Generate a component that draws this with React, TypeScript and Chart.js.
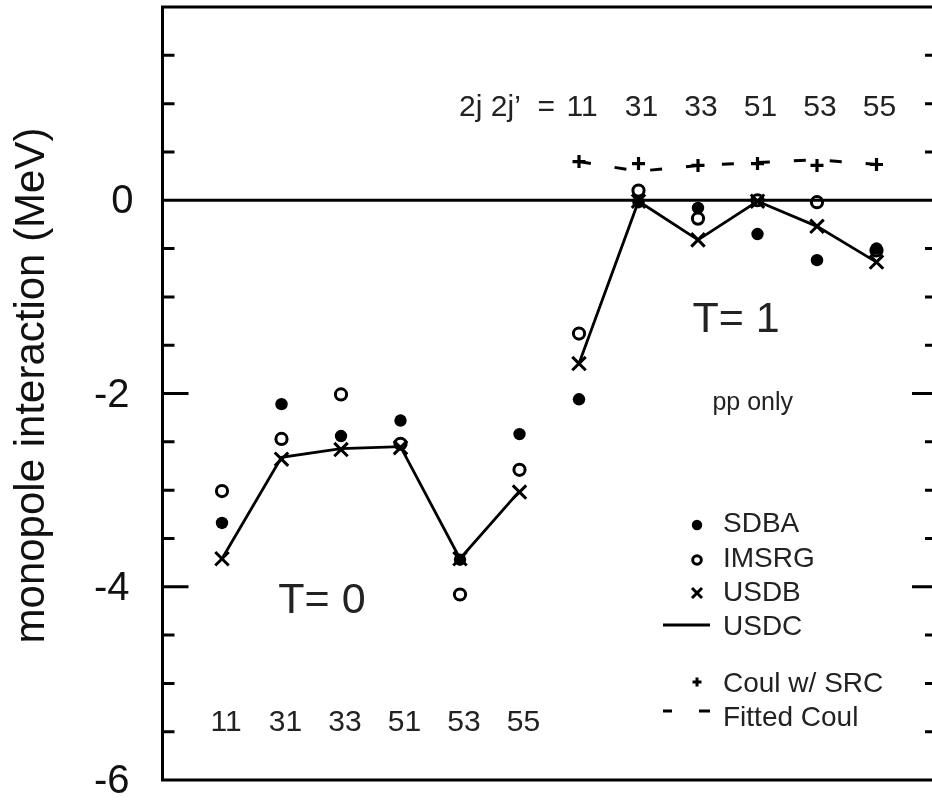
import React, { useEffect, useRef } from 'react';
import { Chart, registerables } from 'chart.js';

Chart.register(...registerables);

// ---- data ----
const orbitPairs = ['11', '31', '33', '51', '53', '55'];
const xT0 = [0, 1, 2, 3, 4, 5];
const xT1 = [6, 7, 8, 9, 10, 11];

const sdbaT0 = [-3.34, -2.11, -2.44, -2.28, -3.72, -2.42];
const sdbaT1 = [-2.06, -0.02, -0.08, -0.35, -0.62, -0.5];
const imsrgT0 = [-3.01, -2.47, -2.01, -2.52, -4.08, -2.79];
const imsrgT1 = [-1.38, 0.1, -0.19, 0.0, -0.02, -0.52];
const usdbT0 = [-3.71, -2.68, -2.58, -2.56, -3.71, -3.02];
const usdbT1 = [-1.69, -0.01, -0.41, -0.01, -0.27, -0.64];
const usdcT0 = [-3.71, -2.66, -2.57, -2.55, -3.71, -3.01];
const usdcT1 = [-1.69, -0.01, -0.41, -0.01, -0.27, -0.64];
const coulSrcT1 = [0.4, 0.38, 0.36, 0.38, 0.36, 0.37];
const fittedCoulT1 = [0.4, 0.3, 0.36, 0.39, 0.42, 0.37];

const yLabelValues = [0, -2, -4, -6];
const yMinorStep = 0.5;
const yMin = -6;
const yMax = 2;
const xMin = -1;
const xMax = 12;

const yTitle = 'monopole interaction (MeV)';
const legendItems = ['SDBA', 'IMSRG', 'USDB', 'USDC', 'Coul w/ SRC', 'Fitted Coul'];

const pts = (xs: number[], ys: number[]) => xs.map((x, i) => ({ x, y: ys[i] }));

const FONT = '"Liberation Sans", Arial, Helvetica, sans-serif';

const decorPlugin = {
  id: 'decor',
  beforeDatasetsDraw(chart: any) {
    const { ctx, chartArea, scales } = chart;
    const y0 = scales.y.getPixelForValue(0);
    ctx.save();
    ctx.strokeStyle = '#000';
    ctx.lineWidth = 3;
    ctx.beginPath();
    ctx.moveTo(chartArea.left, y0);
    ctx.lineTo(chartArea.right, y0);
    ctx.stroke();
    ctx.restore();
  },
  afterDraw(chart: any) {
    const { ctx, chartArea, scales } = chart;
    const { left, right, top, bottom } = chartArea;
    const xs = scales.x;
    const ys = scales.y;
    ctx.save();

    // frame
    ctx.strokeStyle = '#000';
    ctx.lineWidth = 3;
    ctx.lineCap = 'square';
    ctx.beginPath();
    ctx.moveTo(left, top);
    ctx.lineTo(right, top);
    ctx.lineTo(right, bottom);
    ctx.lineTo(left, bottom);
    ctx.closePath();
    ctx.stroke();
    ctx.lineCap = 'butt';

    // inward ticks
    for (let v = yMin + yMinorStep; v < yMax - 1e-9; v += yMinorStep) {
      if (Math.abs(v) < 1e-9) continue;
      const major = Math.abs(v % 2) < 1e-9;
      const py = ys.getPixelForValue(v);
      ctx.beginPath();
      ctx.moveTo(left, py);
      ctx.lineTo(left + (major ? 26 : 12), py);
      ctx.moveTo(right, py);
      ctx.lineTo(right - (major ? 24 : 11), py);
      ctx.stroke();
    }

    // y tick labels
    ctx.fillStyle = '#111';
    ctx.font = `40px ${FONT}`;
    ctx.textAlign = 'right';
    ctx.textBaseline = 'middle';
    yLabelValues.forEach((v) => {
      const off = v === 0 ? 29 : 33;
      ctx.fillText(String(v), left - off, ys.getPixelForValue(v) + 2);
    });

    // y title
    ctx.save();
    ctx.translate(32, (top + bottom) / 2 - 8);
    ctx.rotate(-Math.PI / 2);
    ctx.textAlign = 'center';
    ctx.textBaseline = 'middle';
    ctx.font = `42px ${FONT}`;
    ctx.fillText(yTitle, 0, 0);
    ctx.restore();

    // orbit labels
    ctx.fillStyle = '#222';
    ctx.font = `30px ${FONT}`;
    ctx.textAlign = 'center';
    ctx.textBaseline = 'middle';
    orbitPairs.forEach((lab, i) => {
      ctx.fillText(lab, xs.getPixelForValue(xT1[i]) + 3, ys.getPixelForValue(0.96));
      ctx.fillText(lab, xs.getPixelForValue(xT0[i]) + 4, ys.getPixelForValue(-5.41));
    });
    ctx.textAlign = 'right';
    ctx.fillText('2j 2j\u2019  =', xs.getPixelForValue(6) - 24, ys.getPixelForValue(0.96));

    // T labels
    ctx.textAlign = 'center';
    ctx.font = `43px ${FONT}`;
    ctx.fillText('T= 0', xs.getPixelForValue(1.68), ys.getPixelForValue(-4.15));
    ctx.fillText('T= 1', xs.getPixelForValue(8.64), ys.getPixelForValue(-1.24));
    ctx.font = `25px ${FONT}`;
    ctx.fillText('pp only', xs.getPixelForValue(8.92), ys.getPixelForValue(-2.1));

    // legend
    const sx = 697;
    const tx = 723;
    const rows = [523, 558, 592, 626, 683, 717];
    ctx.font = `28px ${FONT}`;
    ctx.textAlign = 'left';
    ctx.fillStyle = '#222';
    legendItems.forEach((t, i) => ctx.fillText(t, tx, rows[i] + 1));
    ctx.fillStyle = '#000';
    ctx.strokeStyle = '#000';
    // SDBA
    ctx.beginPath();
    ctx.arc(sx, rows[0] + 2, 5.2, 0, Math.PI * 2);
    ctx.fill();
    // IMSRG
    ctx.lineWidth = 3;
    ctx.beginPath();
    ctx.arc(sx, rows[1] + 2, 4.3, 0, Math.PI * 2);
    ctx.stroke();
    // USDB
    ctx.beginPath();
    ctx.moveTo(sx - 5, rows[2] - 4);
    ctx.lineTo(sx + 5, rows[2] + 6);
    ctx.moveTo(sx + 5, rows[2] - 4);
    ctx.lineTo(sx - 5, rows[2] + 6);
    ctx.stroke();
    // USDC
    ctx.lineWidth = 2.8;
    ctx.beginPath();
    ctx.moveTo(663, rows[3] - 1);
    ctx.lineTo(710, rows[3] - 1);
    ctx.stroke();
    // Coul w/ SRC
    ctx.lineWidth = 3;
    ctx.beginPath();
    ctx.moveTo(sx - 4.5, rows[4] - 1);
    ctx.lineTo(sx + 4.5, rows[4] - 1);
    ctx.moveTo(sx, rows[4] - 5.5);
    ctx.lineTo(sx, rows[4] + 3.5);
    ctx.stroke();
    // Fitted Coul
    ctx.lineWidth = 3;
    ctx.beginPath();
    ctx.moveTo(663, rows[5] - 6);
    ctx.lineTo(672, rows[5] - 6);
    ctx.moveTo(699, rows[5] - 6);
    ctx.lineTo(710, rows[5] - 6);
    ctx.stroke();

    ctx.restore();
  },
};

export default function App() {
  const ref = useRef<HTMLCanvasElement | null>(null);

  useEffect(() => {
    if (!ref.current) return;
    const chart = new Chart(ref.current, {
      type: 'line',
      data: {
        datasets: [
          {
            label: 'SDBA',
            data: pts([...xT0, ...xT1], [...sdbaT0, ...sdbaT1]),
            showLine: false,
            pointStyle: 'circle',
            pointRadius: 6.2,
            pointBackgroundColor: '#000',
            pointBorderColor: '#000',
            pointBorderWidth: 0,
          },
          {
            label: 'IMSRG',
            data: pts([...xT0, ...xT1], [...imsrgT0, ...imsrgT1]),
            showLine: false,
            pointStyle: 'circle',
            pointRadius: 5.6,
            pointBackgroundColor: 'rgba(0,0,0,0)',
            pointBorderColor: '#000',
            pointBorderWidth: 3,
          },
          {
            label: 'USDB',
            data: pts([...xT0, ...xT1], [...usdbT0, ...usdbT1]),
            showLine: false,
            pointStyle: 'crossRot',
            pointRadius: 9.5,
            pointBorderColor: '#000',
            pointBorderWidth: 3,
          },
          {
            label: 'USDC',
            data: pts(xT0, usdcT0),
            borderColor: '#000',
            borderWidth: 2.8,
            pointRadius: 0,
            tension: 0,
          },
          {
            label: 'USDC (T=1)',
            data: pts(xT1, usdcT1),
            borderColor: '#000',
            borderWidth: 2.8,
            pointRadius: 0,
            tension: 0,
          },
          {
            label: 'Coul w/ SRC',
            data: pts(xT1, coulSrcT1),
            showLine: false,
            pointStyle: 'cross',
            pointRadius: 6.5,
            pointBorderColor: '#000',
            pointBorderWidth: 3.2,
          },
          {
            label: 'Fitted Coul',
            data: pts(xT1, fittedCoulT1),
            borderColor: '#000',
            borderWidth: 3,
            borderDash: [12, 24],
            pointRadius: 0,
            tension: 0,
          },
        ],
      },
      options: {
        responsive: false,
        devicePixelRatio: 1,
        animation: false,
        layout: { padding: { left: 162.5, top: 7, right: 4, bottom: 21 }, autoPadding: false },
        plugins: { legend: { display: false }, tooltip: { enabled: false } },
        scales: {
          x: { type: 'linear', min: xMin, max: xMax, display: false },
          y: { type: 'linear', min: yMin, max: yMax, display: false },
        },
      },
      plugins: [decorPlugin],
    } as any);
    return () => chart.destroy();
  }, []);

  return (
    <div style={{ position: 'fixed', left: 0, top: 0, width: 940, height: 801, background: '#fff' }}>
      <canvas ref={ref} width={940} height={801} style={{ display: 'block', width: 940, height: 801 }} />
    </div>
  );
}
